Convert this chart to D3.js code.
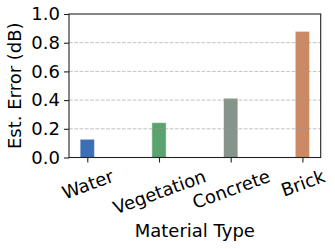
<!DOCTYPE html>
<html>
<head>
<meta charset="utf-8">
<script src="https://cdn.jsdelivr.net/npm/d3@7"></script>
<style>
  body { margin: 0; background: #fff; }
  text { font-family: "DejaVu Sans", sans-serif; }
</style>
</head>
<body>
<div id="chart"></div>
<script>
// material error bars

const materials = ["Water", "Vegetation", "Concrete", "Brick"];
const errors = [0.127, 0.243, 0.413, 0.879];
const barColors = ["#3d6fb6", "#5ba36e", "#869589", "#cc8a64"];
const yTicks = [0.0, 0.2, 0.4, 0.6, 0.8, 1.0];
const gridTicks = [0.2, 0.4, 0.6, 0.8];

const width = 335,
    height = 249,
    margin = ({top: 14, right: 14.3, bottom: 91.5, left: 69});

let svg = d3.select("#chart")
    .append("svg")
    .attr("width", width)
    .attr("height", height);

// x positions of the bars, y for the error
let x = d3.scalePoint()
    .domain(materials)
    .range([margin.left, width - margin.right])
    .padding(0.255);

let y = d3.scaleLinear()
    .domain([0, 1])
    .range([height - margin.bottom, margin.top]);

const barW = x.step() * 0.2;

// bars
svg.selectAll(".bar")
    .data(materials)
    .join("rect")
    .attr("class", "bar")
    .attr("x", d => x(d) - barW / 2)
    .attr("width", barW)
    .attr("y", (d, i) => y(errors[i]))
    .attr("height", (d, i) => y(0) - y(errors[i]))
    .attr("fill", (d, i) => barColors[i])
    .attr("stroke", "#fff")
    .attr("stroke-opacity", 0.5)
    .attr("stroke-width", 1);

// dashed grid sits above the bars
svg.append("g")
    .selectAll("line")
    .data(gridTicks)
    .join("line")
    .attr("x1", margin.left)
    .attr("x2", width - margin.right)
    .attr("y1", d => y(d))
    .attr("y2", d => y(d))
    .attr("stroke", "#999")
    .attr("stroke-opacity", 0.6)
    .attr("stroke-width", 1)
    .attr("stroke-dasharray", "3.7,1.6");

// axes
let yAxis = svg.append("g")
    .attr("transform", `translate(${margin.left},0)`)
    .call(d3.axisLeft(y).tickValues(yTicks).tickFormat(d3.format(".1f")).tickSize(5).tickPadding(4));

let xAxis = svg.append("g")
    .attr("transform", `translate(0,${height - margin.bottom})`)
    .call(d3.axisBottom(x).tickSize(5).tickPadding(4));

svg.selectAll(".domain").remove();
svg.selectAll(".tick line").attr("stroke", "#222").attr("stroke-width", 1.1);
yAxis.selectAll("text").style("font-size", "18px").attr("fill", "#000");

// rotate the x labels and hang them below the ticks
const labelTop = 166;
xAxis.selectAll(".tick text")
    .style("font-size", "18px")
    .attr("fill", "#000")
    .attr("y", 0)
    .attr("dy", "0.35em")
    .attr("text-anchor", "middle")
    .each(function() {
        let t = d3.select(this);
        let w = this.getComputedTextLength();
        let h = 18 * 1.1;
        let a = 20 * Math.PI / 180;
        let half = (w * Math.sin(a) + h * Math.cos(a)) / 2;
        let cy = labelTop - (height - margin.bottom) + half;
        t.attr("transform", `translate(0,${cy}) rotate(-20)`);
    });

// frame
svg.append("rect")
    .attr("x", margin.left)
    .attr("y", margin.top)
    .attr("width", width - margin.left - margin.right)
    .attr("height", height - margin.top - margin.bottom)
    .attr("fill", "none")
    .attr("stroke", "#222")
    .attr("stroke-width", 1.1);

// axis titles
svg.append("text")
    .text("Material Type")
    .attr("x", (margin.left + width - margin.right) / 2)
    .attr("y", 236.5)
    .attr("text-anchor", "middle")
    .style("font-size", "18px");

svg.append("text")
    .text("Est. Error (dB)")
    .attr("transform", `translate(21,${(margin.top + height - margin.bottom) / 2}) rotate(-90)`)
    .attr("text-anchor", "middle")
    .style("font-size", "18px");
</script>
</body>
</html>
